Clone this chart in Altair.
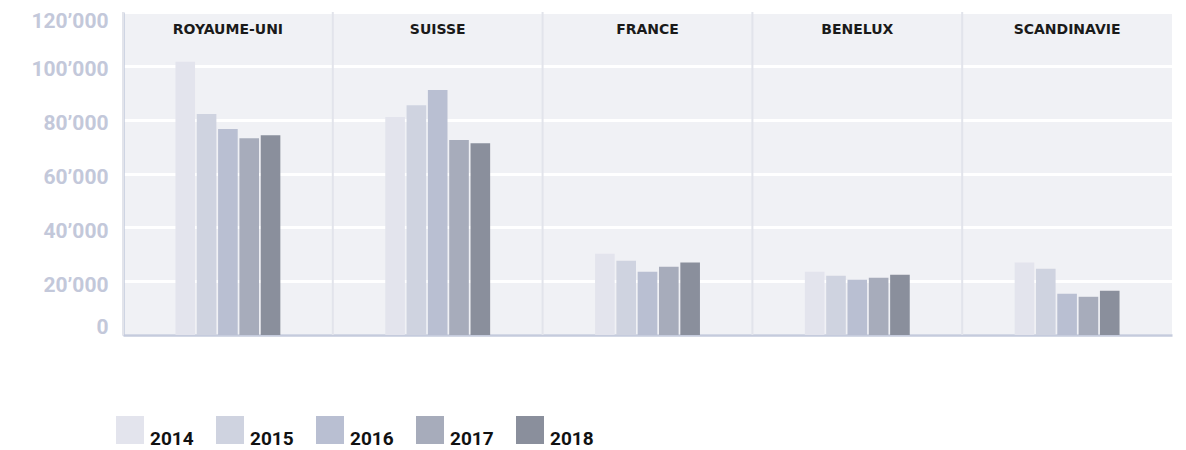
import altair as alt
import pandas as pd

regions = ["ROYAUME-UNI", "SUISSE", "FRANCE", "BENELUX", "SCANDINAVIE"]
years = ["2014", "2015", "2016", "2017", "2018"]
royaume_uni = [101500, 82100, 76500, 73100, 74200]
suisse = [81000, 85400, 91000, 72400, 71200]
france = [30200, 27600, 23500, 25400, 26900]
benelux = [23500, 22000, 20500, 21300, 22400]
scandinavie = [26900, 24600, 15300, 14200, 16400]
year_colors = ["#e3e4ed", "#cfd3e0", "#b9bfd2", "#a7acbb", "#8a8f9c"]
y_ticks = [0, 20000, 40000, 60000, 80000, 100000, 120000]

series = [royaume_uni, suisse, france, benelux, scandinavie]
rows = []
for reg, vals in zip(regions, series):
    for yr, v in zip(years, vals):
        rows.append({"region": reg, "year": yr, "value": v})
df = pd.DataFrame(rows)
df_regions = pd.DataFrame({"region": regions})

separators = alt.Chart(df_regions).mark_rule(color="#e2e4eb", strokeWidth=2).encode(
    x=alt.X("region:N", sort=regions, bandPosition=0,
            scale=alt.Scale(paddingInner=0, paddingOuter=0), axis=None),
)

bars = alt.Chart(df).mark_bar().encode(
    x=alt.X(
        "region:N",
        sort=regions,
        scale=alt.Scale(paddingInner=0.5, paddingOuter=0.25),
        axis=alt.Axis(
            title=None,
            orient="bottom",
            labelAngle=0,
            labelPadding=-313,
            labelFont="DejaVu Sans",
            labelFontWeight="bold",
            labelFontSize=14,
            labelColor="#1a1a1a",
            ticks=False,
            domainColor="#c5cbdd",
            domainWidth=2.5,
            grid=False,
        ),
    ),
    xOffset=alt.XOffset("year:N", sort=years,
                        scale=alt.Scale(paddingInner=0.08, paddingOuter=0)),
    y=alt.Y(
        "value:Q",
        scale=alt.Scale(domain=[0, 120000], nice=False),
        axis=alt.Axis(
            title=None,
            values=y_ticks,
            labelExpr="replace(format(datum.value, ','), ',', '\u2019')",
            labelFont="Roboto",
            labelFontWeight="bold",
            labelFontSize=21,
            labelColor="#c3c8da",
            labelPadding=15,
            labelOffset={
                "condition": [
                    {"test": "datum.value === 0", "value": -8},
                    {"test": "datum.value === 120000", "value": 9},
                ],
                "value": 4,
            },
            ticks=False,
            domainColor="#c5cbdd",
            domainWidth=2.5,
            gridColor="#ffffff",
            gridWidth=3,
        ),
    ),
    color=alt.Color(
        "year:N",
        sort=years,
        scale=alt.Scale(domain=years, range=year_colors),
        legend=alt.Legend(
            orient="none",
            legendX=-7,
            legendY=404,
            direction="horizontal",
            title=None,
            symbolType="square",
            symbolSize=784,
            symbolStrokeWidth=0,
            symbolOpacity=1,
            labelFont="Roboto",
            labelFontWeight="bold",
            labelFontSize=19,
            labelColor="#111111",
            labelBaseline="top",
            labelOffset=6,
            columnPadding=22,
            gridAlign="all",
        ),
    ),
)

chart = alt.layer(separators, bars).resolve_scale(x="independent").properties(
    width=1049,
    height=323,
    autosize=alt.AutoSizeParams(type="none"),
    padding={"left": 115, "top": 4, "right": 5, "bottom": 118},
).configure_view(fill="#f0f1f5", stroke=None)

chart.save("out.html", embed_options={"renderer": "svg", "actions": False})
